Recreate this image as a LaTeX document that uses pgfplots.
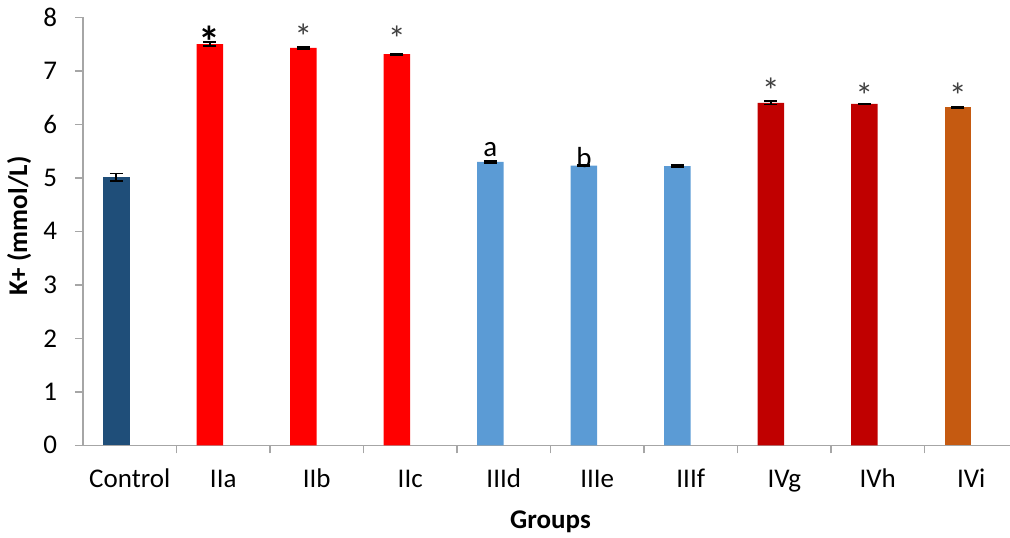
\documentclass[border=0pt]{standalone}
\usepackage{fontspec}
\setmainfont{Carlito}
\usepackage{pgfplots}
\pgfplotsset{compat=1.18}
\definecolor{cctrl}{HTML}{1F4E79}
\definecolor{cred}{HTML}{FF0000}
\definecolor{cblue}{HTML}{5B9BD5}
\definecolor{cdred}{HTML}{C00000}
\definecolor{corange}{HTML}{C55A11}
\definecolor{caxis}{HTML}{A6A6A6}
\begin{document}
\begin{tikzpicture}
\begin{axis}[
  at={(0,0)}, anchor=south west,
  scale only axis, width=467.5pt, height=214pt,
  xmin=-0.5, xmax=9.5, ymin=0, ymax=8,
  ytick={0,1,...,8},
  xtick={0,1,...,9},
  xticklabels={Control,IIa,IIb,IIc,IIId,IIIe,IIIf,IVg,IVh,IVi},
  minor xtick={0.5,1.5,2.5,3.5,4.5,5.5,6.5,7.5,8.5},
  axis x line*=bottom, axis y line*=left,
  axis line style={caxis, line width=0.75pt},
  tick align=outside,
  major tick length=4pt, minor tick length=4pt,
  major x tick style={draw=none},
  minor x tick style={caxis, line width=0.75pt},
  ytick style={caxis, line width=0.75pt},
  tick label style={font=\fontsize{13.5}{15}\selectfont, inner sep=0pt},
  /pgf/number format/assume math mode=true,
  xticklabel style={anchor=base, yshift=-17.3pt},
  yticklabel style={anchor=east, xshift=-8.8pt},
  xlabel={\bfseries Groups},
  ylabel={\bfseries K+ (mmol/L)},
  label style={font=\fontsize{13.5}{15}\selectfont},
  xlabel style={at={(axis description cs:0.5,0)}, anchor=base, yshift=-41.35pt},
  ylabel style={at={(axis description cs:-0.0684,0.512)}, anchor=center},
  clip=false,
]
\pgfplotsset{bstyle/.style={ybar, bar width=13.35pt, bar shift=0pt, draw=none,
  error bars/.cd, y dir=both, y explicit,
  error bar style={black, line width=0.9pt},
  error mark options={rotate=90, mark size=3.2pt, black, line width=0.9pt}}}
\addplot[fill=cctrl, bstyle] coordinates {(-0.143,5.01) +- (0,0.07)};
\addplot[fill=cred, bstyle] coordinates {(0.857,7.50) +- (0,0.04) (1.857,7.43) +- (0,0.02) (2.857,7.31) +- (0,0.01)};
\addplot[fill=cblue, bstyle] coordinates {(3.857,5.30) +- (0,0.02) (4.857,5.23) +- (0,0.01) (5.857,5.22) +- (0,0.02)};
\addplot[fill=cdred, bstyle] coordinates {(6.857,6.40) +- (0,0.03) (7.857,6.38) +- (0,0.01)};
\addplot[fill=corange, bstyle] coordinates {(8.857,6.32) +- (0,0.01)};
\node[font=\fontsize{22}{24}\selectfont\bfseries] at (axis cs:0.857,7.55) {*};
\node[font=\fontsize{18}{20}\selectfont, text=black!75] at (axis cs:1.857,7.63) {*};
\node[font=\fontsize{18}{20}\selectfont, text=black!75] at (axis cs:2.857,7.60) {*};
\node[font=\fontsize{18}{20}\selectfont, text=black!75] at (axis cs:6.857,6.62) {*};
\node[font=\fontsize{18}{20}\selectfont, text=black!75] at (axis cs:7.857,6.53) {*};
\node[font=\fontsize{18}{20}\selectfont, text=black!75] at (axis cs:8.857,6.53) {*};
\node[font=\fontsize{14.5}{16}\selectfont, inner sep=0pt] at (axis cs:3.857,5.52) {a};
\node[font=\fontsize{14.5}{16}\selectfont, inner sep=0pt] at (axis cs:4.857,5.37) {b};
\end{axis}
\pgfresetboundingbox
\path[use as bounding box] (-41.5pt,-45.85pt) rectangle (463.5pt,222.65pt);
\end{tikzpicture}
\end{document}
